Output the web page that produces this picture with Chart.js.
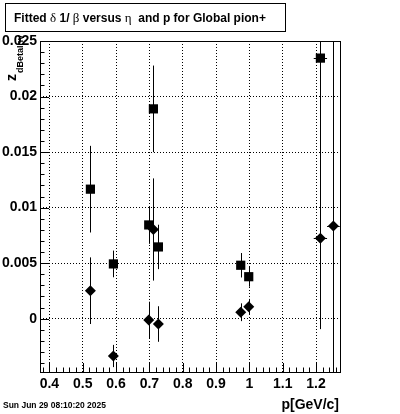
<!DOCTYPE html>
<html>
<head>
<meta charset="utf-8">
<script src="https://cdn.jsdelivr.net/npm/chart.js@4.4.1/dist/chart.umd.min.js"></script>
<style>
  html, body { margin: 0; padding: 0; background: #fff; }
  #wrap { position: relative; width: 400px; height: 414px; }
  canvas { display: block; }
</style>
</head>
<body>
<div id="wrap"><canvas id="c" width="400" height="414"></canvas></div>
<script>
// ---- data ----
const pSquares  = [0.523, 0.592, 0.698, 0.712, 0.727, 0.974, 0.998, 1.213];
const zSquares  = [0.01166, 0.00493, 0.00844, 0.01889, 0.00646, 0.00481, 0.00378, 0.02346];
const ezSquares = [0.0039, 0.0012, 0.0017, 0.0039, 0.0020, 0.0011, 0.0009, 0.0244];
const epSquares = [0, 0, 0, 0, 0, 0, 0, 0.02];

const pDiamonds  = [0.523, 0.592, 0.698, 0.712, 0.727, 0.974, 0.998, 1.213, 1.252];
const zDiamonds  = [0.00252, -0.00336, -0.00012, 0.00803, -0.00048, 0.00058, 0.00108, 0.00724, 0.00835];
const ezDiamonds = [0.0030, 0.0010, 0.00165, 0.0046, 0.0016, 0.0008, 0.0007, 0.008, 0.02];
const epDiamonds = [0, 0, 0, 0, 0, 0, 0, 0.02, 0.019];

const xTickValues = [0.4, 0.5, 0.6, 0.7, 0.8, 0.9, 1.0, 1.1, 1.2];
const xTickLabels = ["0.4", "0.5", "0.6", "0.7", "0.8", "0.9", "1", "1.1", "1.2"];
const yTickValues = [0, 0.005, 0.01, 0.015, 0.02, 0.025];
const yTickLabels = ["0", "0.005", "0.01", "0.015", "0.02", "0.025"];

const xRange = [0.3718, 1.2718];
const yRange = [-0.0048, 0.025];

const titleText = ["Fitted ", "\u03B4", " 1/ ", "\u03B2", " versus ", "\u03B7", "  and p for Global pion+"];
const xTitle = "p[GeV/c]";
const yTitleMain = "z";
const yTitleSub = "dBetaInv";
const dateText = "Sun Jun 29 08:10:20 2025";

function pts(xs, ys, exs, eys) {
  return xs.map((x, i) => ({ x: x, y: ys[i], ex: exs[i], ey: eys[i] }));
}

const rootPlugin = {
  id: 'rootDecor',
  beforeDatasetsDraw(chart) {
    const ctx = chart.ctx, a = chart.chartArea;
    const xs = chart.scales.x, ys = chart.scales.y;
    ctx.save();
    ctx.beginPath();
    ctx.rect(a.left, a.top, a.right - a.left, a.bottom - a.top);
    ctx.clip();
    ctx.strokeStyle = '#000';
    ctx.lineWidth = 1;
    chart.data.datasets.forEach(ds => {
      ds.data.forEach(p => {
        const px = Math.round(xs.getPixelForValue(p.x)) + 0.5;
        const py = Math.round(ys.getPixelForValue(p.y)) + 0.5;
        ctx.beginPath();
        if (p.ey > 0) {
          ctx.moveTo(px, ys.getPixelForValue(p.y + p.ey));
          ctx.lineTo(px, ys.getPixelForValue(p.y - p.ey));
        }
        if (p.ex > 0) {
          ctx.moveTo(xs.getPixelForValue(p.x - p.ex), py);
          ctx.lineTo(xs.getPixelForValue(p.x + p.ex), py);
        }
        ctx.stroke();
      });
    });
    ctx.restore();
  },
  afterDraw(chart) {
    const ctx = chart.ctx, a = chart.chartArea;
    const xs = chart.scales.x, ys = chart.scales.y;
    ctx.save();
    ctx.strokeStyle = '#000';
    ctx.fillStyle = '#000';
    ctx.lineWidth = 1;
    // frame
    ctx.strokeRect(Math.round(a.left) + 0.5, Math.round(a.top) + 0.5,
                   Math.round(a.right - a.left), Math.round(a.bottom - a.top));
    // x ticks (inside, pointing up)
    ctx.beginPath();
    for (let i = 19; i <= 63; i++) {
      const v = i * 0.02;
      if (v < xRange[0] || v > xRange[1]) continue;
      const px = Math.round(xs.getPixelForValue(v)) + 0.5;
      const len = (i % 5 === 0) ? 9 : 4.5;
      ctx.moveTo(px, a.bottom);
      ctx.lineTo(px, a.bottom - len);
    }
    // y ticks (inside, pointing right)
    for (let i = -4; i <= 25; i++) {
      const v = i * 0.001;
      const py = Math.round(ys.getPixelForValue(v)) + 0.5;
      const len = (i % 5 === 0) ? 9 : 4.5;
      ctx.moveTo(a.left, py);
      ctx.lineTo(a.left + len, py);
    }
    ctx.stroke();

    // title box
    ctx.strokeRect(5.5, 3.5, 280, 28);
    let tx = 14;
    const ty = 22;
    titleText.forEach((seg, i) => {
      const greek = (i % 2 === 1);
      ctx.font = greek ? '13px "Liberation Serif"' : 'bold 12px "Liberation Sans"';
      ctx.textBaseline = 'alphabetic';
      ctx.textAlign = 'left';
      ctx.fillText(seg, tx, ty);
      tx += ctx.measureText(seg).width;
    });

    // x axis title
    ctx.font = 'bold 14px "Liberation Sans"';
    ctx.textAlign = 'right';
    ctx.fillText(xTitle, 339, 409);

    // date
    ctx.font = 'bold 8.5px "Liberation Sans"';
    ctx.textAlign = 'left';
    ctx.fillText(dateText, 3, 408);

    // y axis title (rotated)
    ctx.save();
    ctx.translate(16, 81);
    ctx.rotate(-Math.PI / 2);
    ctx.textAlign = 'left';
    ctx.font = 'bold 14px "Liberation Sans"';
    ctx.fillText(yTitleMain, 0, 0);
    const zw = ctx.measureText(yTitleMain).width;
    ctx.font = 'bold 9px "Liberation Sans"';
    ctx.fillText(yTitleSub, zw + 1, 7);
    ctx.restore();

    ctx.restore();
  }
};

new Chart(document.getElementById('c'), {
  type: 'scatter',
  data: {
    datasets: [
      {
        label: 'squares',
        data: pts(pSquares, zSquares, epSquares, ezSquares),
        pointStyle: 'rect',
        pointRadius: 6.5,
        pointHoverRadius: 6.5,
        backgroundColor: '#000',
        borderColor: '#000',
        borderWidth: 0
      },
      {
        label: 'diamonds',
        data: pts(pDiamonds, zDiamonds, epDiamonds, ezDiamonds),
        pointStyle: 'rectRot',
        pointRadius: 5.5,
        pointHoverRadius: 5.5,
        backgroundColor: '#000',
        borderColor: '#000',
        borderWidth: 0
      }
    ]
  },
  options: {
    responsive: false,
    animation: false,
    events: [],
    layout: { padding: { top: 41, left: 0, right: 60, bottom: 0 } },
    plugins: { legend: { display: false }, tooltip: { enabled: false }, title: { display: false } },
    scales: {
      x: {
        type: 'linear',
        min: xRange[0], max: xRange[1],
        afterFit(s) { s.height = 42; },
        afterBuildTicks(s) { s.ticks = xTickValues.map(v => ({ value: v })); },
        border: { display: false, dash: [1, 2] },
        grid: { color: '#000', lineWidth: 1, drawTicks: false },
        ticks: {
          padding: 4,
          maxRotation: 0, autoSkip: false,
          color: '#000',
          font: { family: '"Liberation Sans"', weight: 'bold', size: 14 },
          callback(v, i) { return xTickLabels[i]; }
        }
      },
      y: {
        type: 'linear',
        min: yRange[0], max: yRange[1],
        afterFit(s) { s.width = 40; },
        afterBuildTicks(s) { s.ticks = yTickValues.map(v => ({ value: v })); },
        border: { display: false, dash: [1, 2] },
        grid: { color: '#000', lineWidth: 1, drawTicks: false },
        ticks: {
          padding: 3,
          color: '#000',
          font: { family: '"Liberation Sans"', weight: 'bold', size: 14 },
          callback(v, i) { return yTickLabels[i]; }
        }
      }
    }
  },
  plugins: [rootPlugin]
});
</script>
</body>
</html>
